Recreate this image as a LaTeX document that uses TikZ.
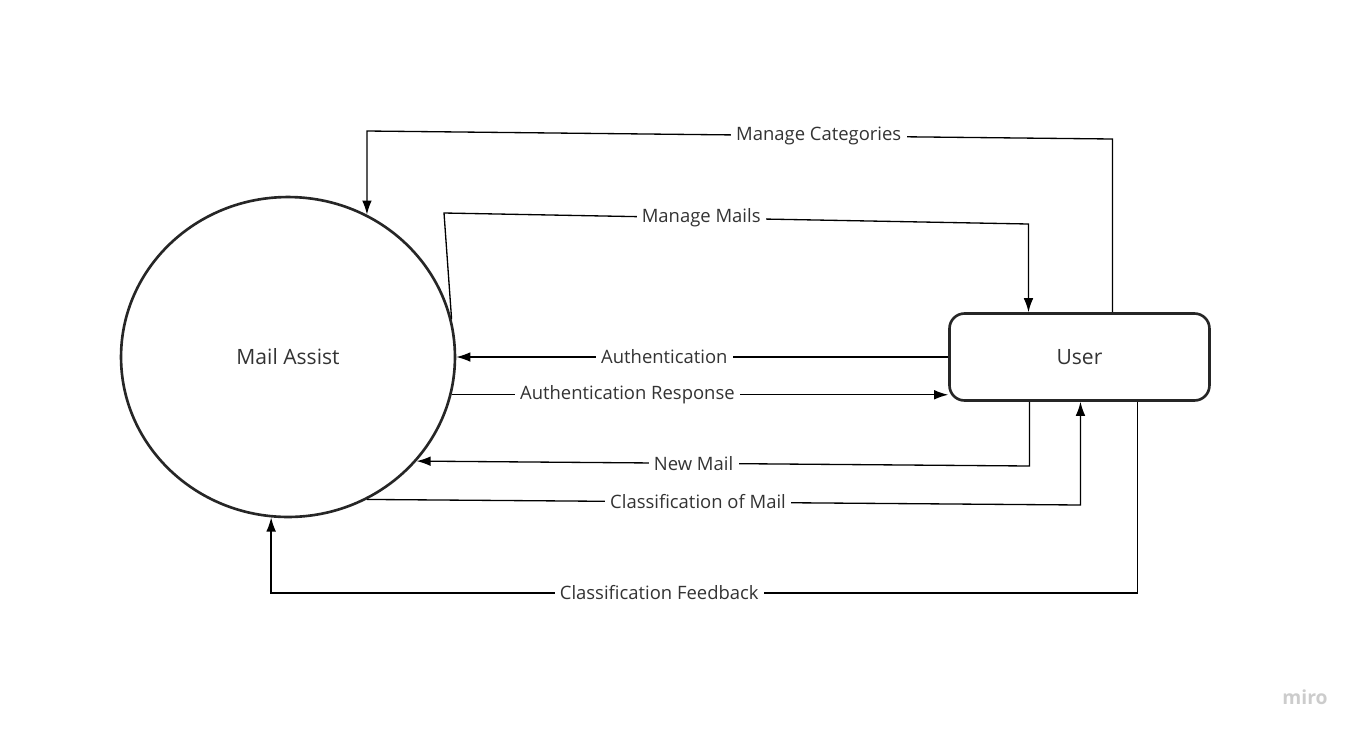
\documentclass[tikz,border=0pt]{standalone}
\usepackage{fontspec}
\setmainfont{Open Sans}
\usetikzlibrary{shapes.geometric,positioning,arrows.meta}
\tikzset{>={Latex[length=8pt,width=5.5pt]}}
\definecolor{inkgray}{HTML}{333333}

\begin{document}
\begin{tikzpicture}[
    x=0.02cm, y=-0.02cm,
    node distance=9.84cm,
    every node/.style={text=inkgray, font=\fontsize{10.5}{12}\selectfont},
    process/.style={draw=black!85, line width=1.5pt, ellipse, minimum width=6.68cm, minimum height=6.4cm, font=\fontsize{12}{14}\selectfont},
    entity/.style={draw=black!85, line width=1.5pt, rectangle, rounded corners=0.3cm, minimum width=5.2cm, minimum height=1.74cm, font=\fontsize{12}{14}\selectfont},
    flow/.style={->, line width=0.75pt},
    flowlabel/.style={fill=white, inner sep=3pt}
]
    \useasboundingbox (0,0) rectangle (1359,738);

    % Nodes
    \node[process] (MailAssist) at (288,357) {Mail Assist};
    \node[entity, right=of MailAssist] (User) {User};
    \node[text=black!20, font=\fontsize{11}{13}\selectfont\bfseries] (Watermark) at (1305,697) {miro};

    % Bend points
    \coordinate (CatOut) at ([xshift=0.66cm]User.north);
    \coordinate (MailsIn) at ([xshift=-1.02cm]User.north);
    \coordinate (NewOut) at ([xshift=-1cm]User.south);
    \coordinate (ClassIn) at ([xshift=0.02cm]User.south);
    \coordinate (FeedOut) at ([xshift=1.16cm]User.south);

    % Arrows
    \draw[flow] (CatOut) -- (CatOut |- 0,139)
        -- node[flowlabel, pos=0.394]{Manage Categories} (MailAssist.61 |- 0,131)
        -- (MailAssist.61);
    \draw[flow] (MailAssist.13.5) -- (444,213)
        -- node[flowlabel, pos=0.44]{Manage Mails} (MailsIn |- 0,224)
        -- (MailsIn);
    \draw[flow] (User.west) -- node[flowlabel, pos=0.577]{Authentication} (MailAssist.east);
    \draw[flow] (MailAssist.-13.5) -- node[flowlabel, pos=0.354]{Authentication Response} (MailAssist.-13.5 -| User.west);
    \draw[flow] (NewOut) -- (NewOut |- 0,466)
        -- node[flowlabel, pos=0.548]{New Mail} (MailAssist.-39.2);
    \draw[flow] (MailAssist.-61.5) -- node[flowlabel, pos=0.464]{Classification of Mail} (ClassIn |- 0,505)
        -- (ClassIn);
    \draw[flow] (FeedOut) |- node[flowlabel, pos=0.776]{Classification Feedback} (MailAssist.-96.8 |- 0,593)
        -- (MailAssist.-96.8);
\end{tikzpicture}
\end{document}
